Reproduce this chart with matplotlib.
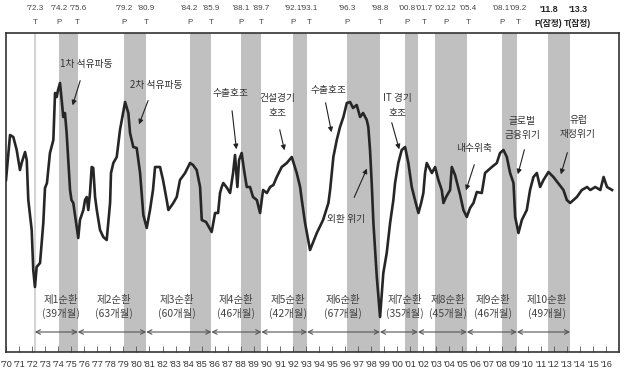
import matplotlib
matplotlib.use("Agg")
import matplotlib.pyplot as plt
import matplotlib.transforms as mtransforms

plt.rcParams['font.family'] = ['Noto Sans CJK KR', 'DejaVu Sans']

# Cycle component (arbitrary units)
dates = [1970.00, 1970.31, 1970.56, 1970.82, 1971.07, 1971.20, 1971.46, 1971.59, 1971.71, 1971.97,
         1972.09, 1972.22, 1972.35, 1972.61, 1972.86, 1972.99, 1973.14, 1973.37, 1973.63, 1973.76,
         1973.89, 1973.99, 1974.14, 1974.27, 1974.39, 1974.52, 1974.65, 1974.91, 1975.02, 1975.16,
         1975.42, 1975.54, 1975.67, 1975.93, 1976.06, 1976.19, 1976.31, 1976.44, 1976.57, 1976.69,
         1976.83, 1976.96, 1977.21, 1977.46, 1977.72, 1977.98, 1978.05, 1978.23, 1978.49, 1978.74,
         1979.13, 1979.38, 1979.51, 1979.76, 1980.02, 1980.28, 1980.53, 1980.79, 1981.04, 1981.27,
         1981.43, 1981.81, 1982.04, 1982.32, 1982.45, 1982.83, 1983.09, 1983.34, 1983.73, 1984.11,
         1984.34, 1984.62, 1984.88, 1985.01, 1985.34, 1985.77, 1986.03, 1986.26, 1986.41, 1986.54,
         1986.66, 1986.95, 1987.18, 1987.41, 1987.56, 1987.74, 1987.87, 1988.07, 1988.25, 1988.46,
         1988.71, 1988.94, 1989.23, 1989.48, 1989.71, 1990.00, 1990.25, 1990.50, 1990.76, 1991.14,
         1991.53, 1991.91, 1992.29, 1992.55, 1992.68, 1992.93, 1993.31, 1993.83, 1994.31, 1994.72,
         1994.85, 1995.10, 1995.36, 1995.61, 1995.87, 1996.13, 1996.38, 1996.61, 1996.89, 1997.15,
         1997.38, 1997.66, 1997.78, 1997.91, 1998.04, 1998.17, 1998.43, 1998.68, 1998.93, 1999.19,
         1999.45, 1999.70, 1999.83, 2000.08, 2000.34, 2000.60, 2000.85, 2001.11, 2001.36, 2001.62,
         2001.83, 2002.00, 2002.13, 2002.26, 2002.65, 2002.90, 2003.15, 2003.41, 2003.54, 2003.74,
         2004.05, 2004.18, 2004.43, 2004.82, 2005.07, 2005.33, 2005.58, 2005.84, 2006.10, 2006.48,
         2006.73, 2006.99, 2007.25, 2007.63, 2007.88, 2008.14, 2008.40, 2008.65, 2008.91, 2009.04,
         2009.29, 2009.55, 2009.93, 2010.18, 2010.44, 2010.70, 2010.95, 2011.21, 2011.59, 2011.97,
         2012.33, 2012.74, 2013.00, 2013.25, 2013.51, 2013.77, 2014.15, 2014.55, 2014.80, 2015.18,
         2015.57, 2015.82, 2016.08, 2016.47]
values = [172, 217, 215, 202, 182, 189, 200, 192, 152, 122,
          82, 65, 85, 89, 129, 164, 169, 199, 212, 259,
          255, 262, 269, 252, 235, 239, 219, 162, 152, 149,
          125, 114, 132, 142, 152, 155, 142, 159, 185, 184,
          155, 142, 122, 115, 112, 149, 179, 189, 195, 222,
          250, 239, 219, 205, 204, 179, 137, 124, 142, 162,
          185, 185, 172, 152, 142, 149, 155, 172, 179, 189,
          187, 182, 165, 132, 130, 120, 139, 139, 159, 165,
          169, 164, 159, 179, 197, 165, 192, 199, 182, 165,
          165, 155, 152, 139, 162, 159, 165, 167, 175, 185,
          189, 195, 179, 165, 152, 129, 102, 119, 132, 149,
          162, 195, 212, 225, 235, 249, 250, 244, 247, 235,
          239, 232, 225, 202, 169, 129, 75, 35, 79, 99,
          129, 152, 169, 189, 202, 205, 189, 165, 152, 139,
          149, 159, 179, 189, 179, 185, 172, 162, 149, 155,
          162, 185, 177, 157, 142, 135, 144, 149, 160, 159,
          179, 182, 185, 189, 199, 202, 195, 179, 169, 135,
          119, 132, 142, 162, 175, 179, 165, 172, 180, 175,
          169, 162, 152, 149, 152, 155, 162, 165, 162, 165,
          162, 175, 165, 162]

# Turning points (year, month)
peaks = [(1974, 2), (1979, 2), (1984, 2), (1988, 1), (1992, 1), (1996, 3),
         (2000, 8), (2002, 12), (2008, 1), (2011, 8)]
troughs = [(1975, 6), (1980, 9), (1985, 9), (1989, 7), (1993, 1), (1998, 8),
           (2001, 7), (2005, 4), (2009, 2), (2013, 3)]
first_trough = (1972, 3)

cycle_names = ['제1순환', '제2순환', '제3순환', '제4순환', '제5순환',
               '제6순환', '제7순환', '제8순환', '제9순환', '제10순환']
cycle_months = [39, 63, 60, 46, 42, 67, 35, 45, 46, 49]

events = ['1차 석유파동', '2차 석유파동', '수출호조', '건설경기\n호조', '수출호조',
          '외환 위기', 'IT 경기\n호조', '내수위축', '글로벌\n금융위기', '유럽\n재정위기']
event_text_xy = [(1976.13, 288), (1981.5, 267), (1987.18, 259), (1990.78, 247), (1994.69, 262),
                 (1996.07, 133), (1999.98, 247), (2005.89, 204), (2009.57, 224), (2013.86, 225)]
event_tail = [(1975.75, 274), (1980.97, 254), (1987.31, 244), (1990.94, 225), (1994.46, 252),
              (1996.61, 152), (1999.52, 232), (2005.97, 190), (2009.80, 205), (2013.10, 202)]
event_head = [(1975.04, 244), (1980.12, 225), (1987.69, 200), (1991.40, 199), (1995.0, 217),
              (1997.76, 186), (2000.21, 200), (2005.20, 159), (2009.19, 175), (2012.48, 175)]

cycle_label_x = [1974.22, 1978.28, 1983.11, 1987.64, 1991.63, 1995.84, 2000.60, 2003.90, 2007.35, 2011.49]

years = list(range(1970, 2017))

fig = plt.figure(figsize=(6.24, 3.78), dpi=100)
ax = fig.add_axes([6 / 624, 1 - 352 / 378, 613 / 624, 319 / 378])
ax.set_xlim(1970, 2017)
ax.set_ylim(0, 319)

shade = '#c0c0c0'
for (py, pm), (ty, tm) in zip(peaks, troughs):
    ax.axvspan(py + (pm - 1) / 12, ty + tm / 12, color=shade, lw=0, zorder=0)
ax.axvline(first_trough[0] + (first_trough[1] - 0.5) / 12, color='#d4d4d4', lw=1.5, zorder=0)

ax.plot(dates, values, color='#262626', lw=1.9, zorder=3)

# top turning point labels (small nudges, in years, where labels crowd)
trans = mtransforms.blended_transform_factory(ax.transData, fig.transFigure)
nudge = {(1993, 1): 0.15, (2000, 8): 0.2, (2001, 7): 0.5, (2002, 12): 0.8,
         (2005, 4): 0.1, (2013, 3): 0.6, (2009, 2): 0.1}
lab_font = ['Liberation Sans', 'Noto Sans CJK KR']

def top_label(x, date_txt, kind, bold=False):
    w = 'bold' if bold else 'normal'
    fs = 6.3 if bold else 5.8
    col = '#222222' if bold else '#444444'
    ax.text(x, 1 - 9 / 378, date_txt, transform=trans, ha='center', va='center',
            fontsize=fs, color=col, fontweight=w, family=lab_font)
    ax.text(x, 1 - 23 / 378, kind, transform=trans, ha='center', va='center',
            fontsize=fs, color=col, fontweight=w, family=lab_font)

top_label(first_trough[0] + (first_trough[1] - 0.5) / 12, "'72.3", 'T')
for i, ((py, pm), (ty, tm)) in enumerate(zip(peaks, troughs)):
    bold = i == len(peaks) - 1
    ptxt = 'P(잠정)' if bold else 'P'
    ttxt = 'T(잠정)' if bold else 'T'
    top_label(py + (pm - 1) / 12 + nudge.get((py, pm), 0), "'%02d.%d" % (py % 100, pm), ptxt, bold)
    top_label(ty + tm / 12 + nudge.get((ty, tm), 0), "'%02d.%d" % (ty % 100, tm), ttxt, bold)

# event annotations
for txt, txy, tail, head in zip(events, event_text_xy, event_tail, event_head):
    ax.text(txy[0], txy[1], txt, ha='center', va='center', fontsize=7, color='#333333',
            linespacing=1.5, zorder=5)
    ax.annotate('', xy=head, xytext=tail,
                arrowprops=dict(arrowstyle='-|>', color='#222222', lw=0.8, mutation_scale=7),
                zorder=5)

# cycle arrows and labels
bounds = [first_trough[0] + (first_trough[1] - 0.5) / 12] + [ty + tm / 12 for ty, tm in troughs]
for i in range(len(cycle_names)):
    ax.annotate('', xy=(bounds[i + 1], 20), xytext=(bounds[i], 20),
                arrowprops=dict(arrowstyle='<->', color='#555555', lw=0.8, mutation_scale=8,
                                shrinkA=0, shrinkB=0), zorder=5)
    ax.text(cycle_label_x[i], 45, '%s\n(%d개월)' % (cycle_names[i], cycle_months[i]),
            ha='center', va='center', fontsize=7.5, color='#444444', linespacing=1.3, zorder=5)

ax.set_yticks([])
ax.set_xticks(years)
ax.set_xticklabels(["'%02d" % (y % 100) for y in years], fontsize=6.5, color='#333333',
                   family=['Liberation Sans'])
ax.tick_params(axis='x', direction='in', length=4, width=0.6, color='#555555', pad=6)
for s in ax.spines.values():
    s.set_color('#333333')
    s.set_linewidth(1.2)

fig.savefig('out.png', dpi=100)
